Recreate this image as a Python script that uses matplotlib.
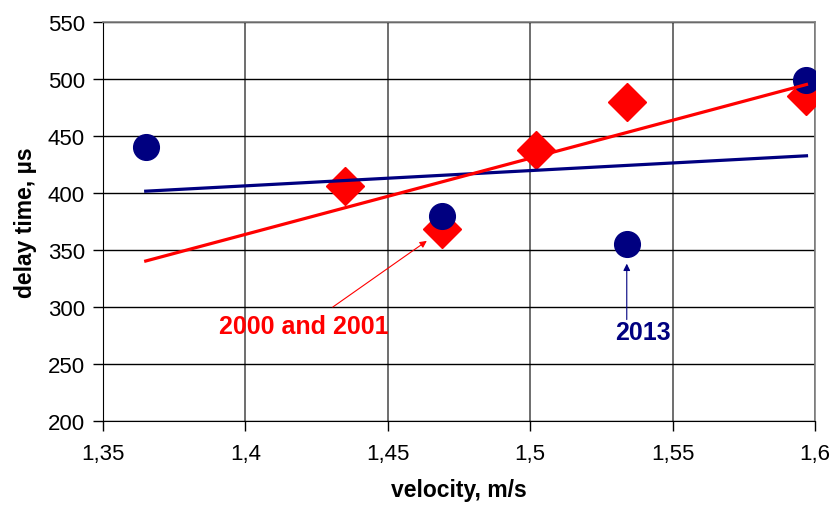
import numpy as np
import matplotlib
matplotlib.use("Agg")
import matplotlib.pyplot as plt

plt.rcParams['font.family'] = ['Liberation Sans', 'DejaVu Sans']

# 2013 measurements (blue circles)
vel_2013 = [1.365, 1.469, 1.534, 1.597]
delay_2013 = [440, 380, 355, 499]

# 2000 and 2001 measurements (red diamonds)
vel_2000 = [1.435, 1.469, 1.502, 1.534, 1.597]
delay_2000 = [406, 368, 438, 480, 485]

x_ticks = [1.35, 1.40, 1.45, 1.50, 1.55, 1.60]
x_labels = ["1,35", "1,4", "1,45", "1,5", "1,55", "1,6"]
y_ticks = [200, 250, 300, 350, 400, 450, 500, 550]

navy = "#000080"
red = "#ff0000"

fig = plt.figure(figsize=(8.32, 5.06), dpi=100)
ax = fig.add_axes([0.1238, 0.166, 0.8558, 0.7885])

# markers
ax.plot(vel_2000, delay_2000, linestyle="none", marker="D", markersize=19,
        color=red, zorder=3)
ax.plot(vel_2013, delay_2013, linestyle="none", marker="o", markersize=18.5,
        color=navy, zorder=4)

# linear trend lines, drawn over the same velocity span
x_fit = np.array([min(vel_2013), max(vel_2013)])
p_2013 = np.polyfit(vel_2013, delay_2013, 1)
p_2000 = np.polyfit(vel_2000, delay_2000, 1)
ax.plot(x_fit, np.polyval(p_2013, x_fit), color=navy, lw=2.3, zorder=5)
ax.plot(x_fit, np.polyval(p_2000, x_fit), color=red, lw=2.3, zorder=5)

# annotations
ax.annotate("", xy=(1.4637, 358), xytext=(1.4307, 300),
            arrowprops=dict(arrowstyle="-|>", color=red, lw=0.8,
                            mutation_scale=10, shrinkA=0, shrinkB=0))
ax.text(1.4205, 283, "2000 and 2001", color=red, fontsize=18,
        fontweight="bold", ha="center", va="center")
ax.annotate("", xy=(1.5339, 338), xytext=(1.5339, 289),
            arrowprops=dict(arrowstyle="-|>", color=navy, lw=0.8,
                            mutation_scale=10, shrinkA=0, shrinkB=0))
ax.text(1.5395, 278, "2013", color=navy, fontsize=18,
        fontweight="bold", ha="center", va="center")

ax.set_xlim(1.35, 1.60)
ax.set_ylim(200, 550)
ax.set_xticks(x_ticks)
ax.set_xticklabels(x_labels)
ax.set_yticks(y_ticks)
ax.tick_params(labelsize=16, length=7, width=1, direction="out", pad=6)
ax.tick_params(axis="x", pad=9)

ax.grid(True, axis="y", color="black", lw=1)
ax.grid(True, axis="x", color="#555555", lw=1.2)
ax.set_axisbelow(True)

for side in ["top", "right"]:
    ax.spines[side].set_color("#808080")
    ax.spines[side].set_linewidth(1.2)
for side in ["left", "bottom"]:
    ax.spines[side].set_color("black")

ax.set_xlabel("velocity, m/s", fontsize=16.5, fontweight="bold", labelpad=10)
ax.set_ylabel("delay time, \u00b5s", fontsize=16.5, fontweight="bold", labelpad=8)

plt.savefig("out.png", dpi=100)
